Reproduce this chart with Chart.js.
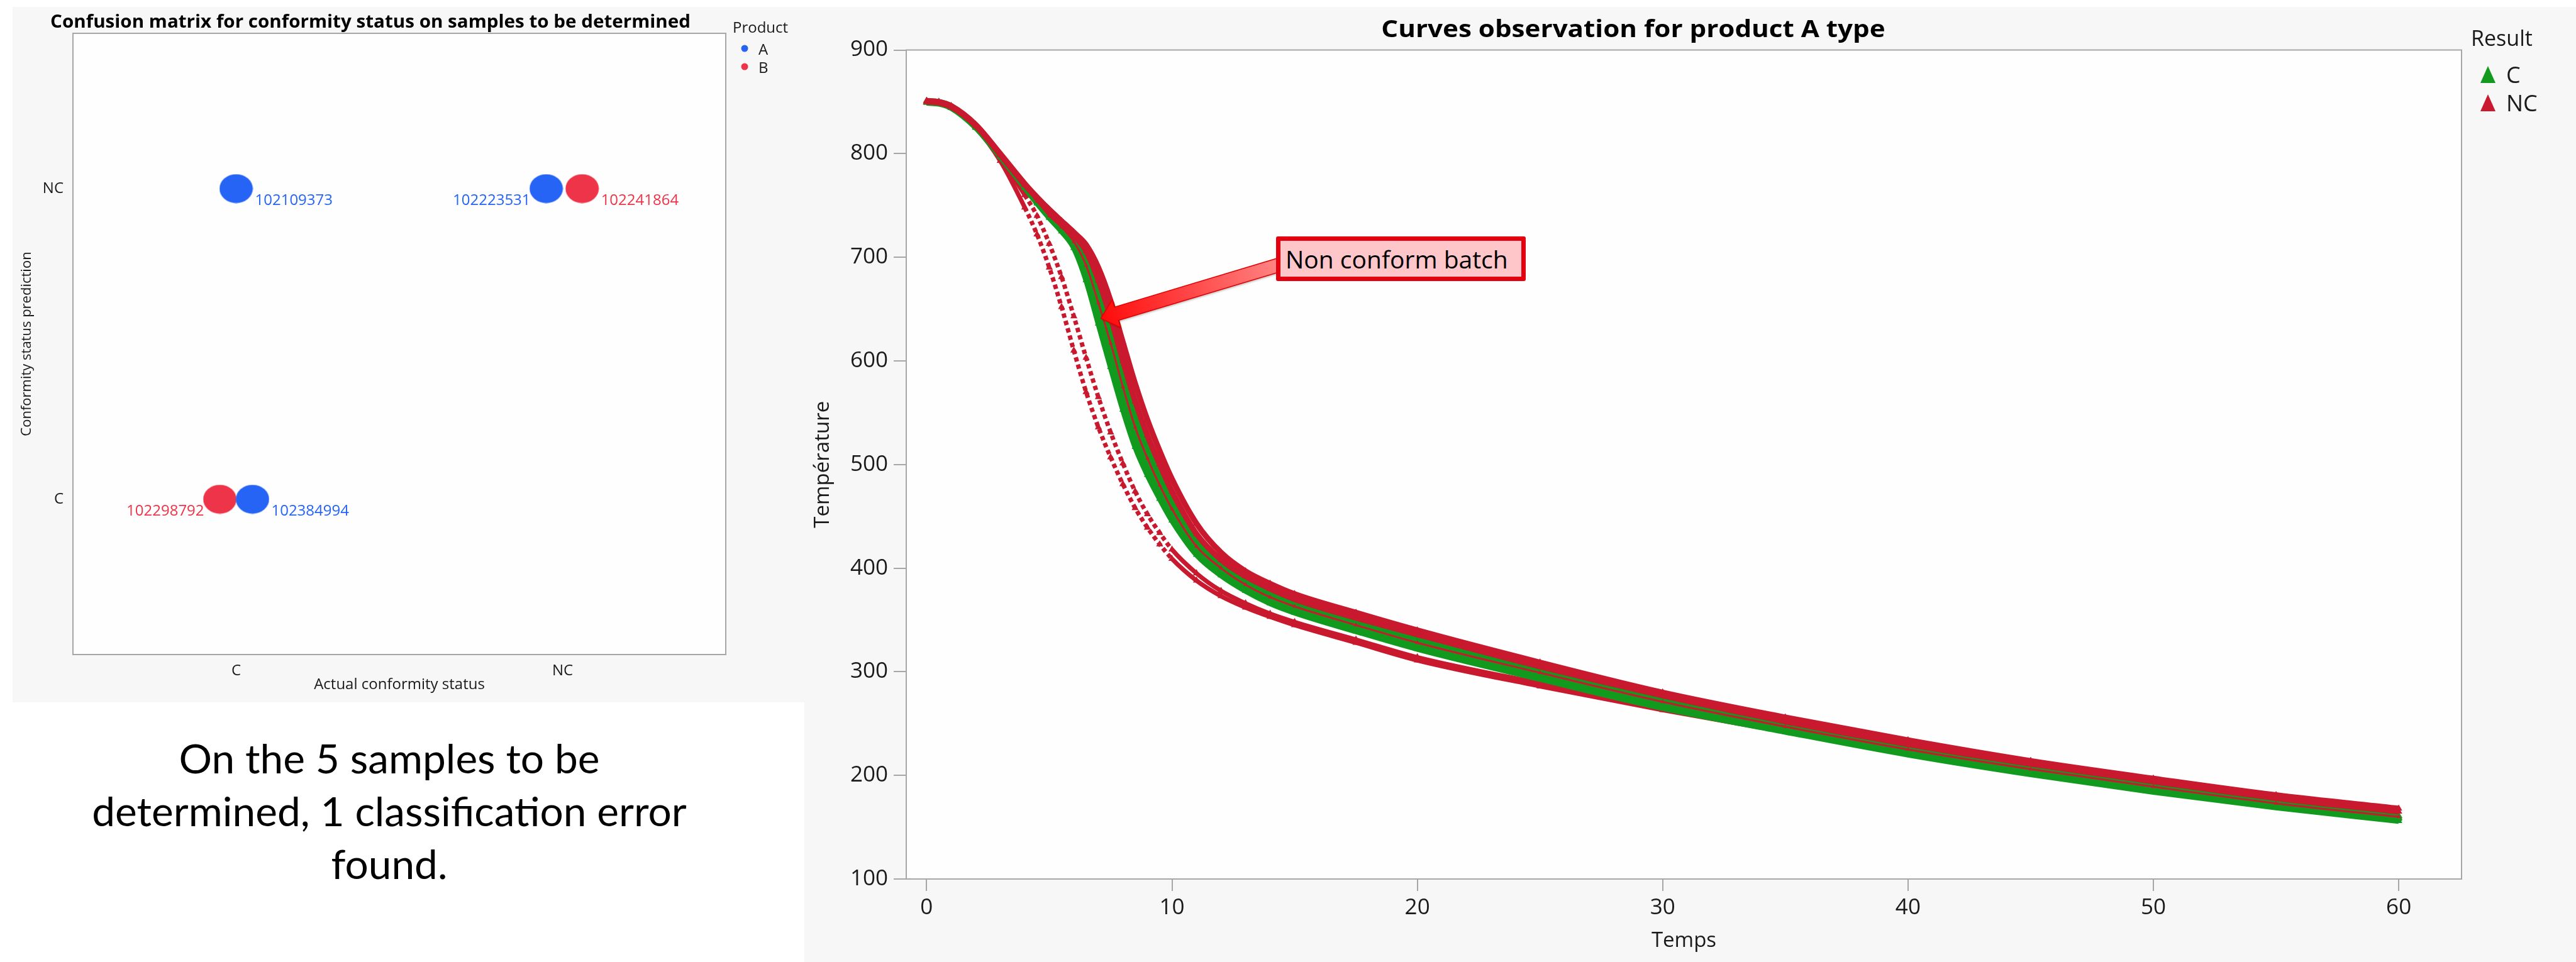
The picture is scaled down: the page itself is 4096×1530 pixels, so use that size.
<!DOCTYPE html>
<html>
<head>
<meta charset="utf-8">
<title>Confusion matrix and cooling curves</title>
<script src="https://cdn.jsdelivr.net/npm/chart.js@4.4.1/dist/chart.umd.min.js"></script>
<style>
  html, body { margin:0; padding:0; width:4096px; height:1530px; background:#ffffff; overflow:hidden; }
  body { position:relative; font-family:'Open Sans','Noto Sans',sans-serif; color:#000; }
  .panel { position:absolute; background:#f7f7f7; }
  .panel canvas { position:absolute; left:0; top:0; }
  .txt { position:absolute; white-space:nowrap; line-height:1; }
  .lg { position:absolute; white-space:nowrap; line-height:1; transform:translateY(-50%); color:#1a1a1a; }
  #note { position:absolute; left:2029px; top:376px; width:397px; height:71px; box-sizing:border-box;
          border:7px solid #e3000f; border-radius:3px; background:#ffc6c9; font-size:39px; line-height:57px;
          padding-left:8px; white-space:nowrap; color:#000; }
</style>
</head>
<body>
<div class="panel" id="leftPanel" style="left:20px;top:11px;width:1259px;height:1106px;">
  <canvas id="cm" width="1259" height="1106"></canvas>
</div>
<div class="panel" id="rightPanel" style="left:1279px;top:11px;width:2817px;height:1519px;">
  <canvas id="curves" width="2817" height="1519"></canvas>
</div>

<div class="txt fit" data-cx="589" data-cy="33" data-w="1018" style="font-weight:700;font-size:28px;">Confusion matrix for conformity status on samples to be determined</div>
<div class="txt fit" data-cx="2597" data-cy="44" data-w="801" style="font-weight:700;font-size:37px;">Curves observation for product A type</div>

<div class="lg" style="left:1165px;top:43px;font-size:24px;">Product</div>
<svg style="position:absolute;left:1176px;top:69px;" width="16" height="46">
  <circle cx="8" cy="8" r="5.5" fill="#2664f5"/>
  <circle cx="8" cy="37" r="5.5" fill="#ee3448"/>
</svg>
<div class="lg" style="left:1206px;top:78px;font-size:24px;">A</div>
<div class="lg" style="left:1206px;top:107px;font-size:24px;">B</div>

<div class="lg" style="left:3929px;top:60px;font-size:34px;">Result</div>
<svg style="position:absolute;left:3943px;top:105px;" width="26" height="74">
  <polygon points="13,0 25,27 1,27" fill="#129a1e"/>
  <polygon points="13,45 25,72 1,72" fill="#c8192e"/>
</svg>
<div class="lg" style="left:3985px;top:119px;font-size:36px;">C</div>
<div class="lg" style="left:3985px;top:164px;font-size:36px;">NC</div>

<div id="note">Non conform batch</div>

<div class="txt fit" data-group="summary" data-cx="619" data-cy="1206" style="font-family:Lato,sans-serif;font-size:64px;">On the 5 samples to be</div>
<div class="txt fit" data-group="summary" data-cx="619" data-cy="1290" data-w="945" style="font-family:Lato,sans-serif;font-size:64px;">determined, 1 classification error</div>
<div class="txt fit" data-group="summary" data-cx="619" data-cy="1374" style="font-family:Lato,sans-serif;font-size:64px;">found.</div>

<script>
// ---------------- DATA : confusion matrix ----------------
const statusCategories = ['C', 'NC'];
const productCategories = ['A', 'B'];
const sampleIds       = ['102109373', '102223531', '102241864', '102298792', '102384994'];
const sampleProduct   = ['A', 'A', 'B', 'B', 'A'];
const sampleActual    = ['C', 'NC', 'NC', 'C', 'C'];
const samplePredicted = ['NC', 'NC', 'NC', 'C', 'C'];
const sampleJitter    = [0.00, -0.05, 0.06, -0.05, 0.05];

// ---------------- DATA : cooling curves (Temps / Température) ----------------
const timeS = [0, 0.5, 1, 2, 3, 4, 4.5, 5, 5.5, 6, 6.5, 7, 7.5, 8, 8.5, 9, 9.5, 10, 11, 12, 13, 14, 15, 17.5, 20, 25, 30, 35, 40, 45, 50, 55, 60];
const resultCategories = ['C', 'NC'];
// conform batches (C)
const curveC1 = [849,848,844,825,797,767,752,738,725,709,678,636,594,553,517,490,467,446,413,393,378,366,357,339,322,293,265,242,220,201,184,169,156];
const curveC2 = [850,849,845,826,798,768,753,739,727,712,684,645,604,563,525,496,472,451,417,396,381,369,360,342,325,296,268,244,222,203,186,171,158];
const curveC3 = [850,849,845,826,798,769,754,740,728,714,689,652,612,570,532,502,477,454,419,398,383,371,362,344,327,298,270,246,224,205,188,172,159];
const curveC4 = [851,850,846,827,799,770,755,741,729,716,694,660,621,579,540,509,483,459,423,401,385,373,364,346,329,300,272,248,226,207,190,174,160];
const curveC5 = [850,849,845,826,799,770,756,742,731,719,699,668,631,590,550,517,490,465,427,404,388,376,366,348,331,302,273,249,227,208,191,175,161];
// non conform batches (NC)
const curveNC1 = [850,849,845,825,793,748,722,690,652,610,570,536,507,481,458,439,423,409,388,373,362,353,345,328,311,286,263,242,221,203,187,172,159];
const curveNC2 = [850,849,845,826,796,760,740,713,681,643,603,565,531,501,474,452,434,418,395,378,366,356,348,331,314,289,266,244,223,205,189,174,161];
const curveNC3 = [851,850,846,828,800,771,758,746,735,724,712,690,658,618,578,543,513,486,443,415,397,385,375,357,340,309,280,256,234,214,197,181,168];
const curveNC4 = [850,849,845,826,798,769,754,740,729,715,692,656,617,575,536,506,480,457,421,400,384,372,363,345,328,299,271,247,225,206,189,173,160];
const curveNC5 = [850,849,845,827,799,770,757,744,733,721,706,678,642,600,561,528,500,474,433,408,392,380,370,352,336,305,277,252,230,211,194,178,165];
const tempTicks = [100, 200, 300, 400, 500, 600, 700, 800, 900];
const timeTicks = [0, 10, 20, 30, 40, 50, 60];
const noteTarget = { t: 7.1, T: 641 };   // point of the curve marked "Non conform batch"

// ---------------- styles ----------------
const productColors = { A: '#2664f5', B: '#ee3448' };
const resultColors = { C: '#129a1e', NC: '#c8192e' };
const FRAME = '#a6a6a6';
Chart.defaults.font.family = "'Open Sans','Noto Sans',sans-serif";
Chart.defaults.color = '#1a1a1a';
Chart.defaults.animation = false;

const plotFrame = {
  id: 'plotFrame',
  beforeDraw(chart) {
    const { ctx, chartArea: a } = chart;
    ctx.save(); ctx.fillStyle = '#fefefe';
    ctx.fillRect(a.left, a.top, a.right - a.left, a.bottom - a.top); ctx.restore();
  },
  afterDraw(chart) {
    const { ctx, chartArea: a } = chart;
    ctx.save(); ctx.strokeStyle = FRAME; ctx.lineWidth = 2;
    ctx.strokeRect(a.left, a.top, a.right - a.left, a.bottom - a.top); ctx.restore();
  }
};

// ---------------- left chart: confusion matrix ----------------
function ellipseStyle(color) {
  const c = document.createElement('canvas');
  c.width = 54; c.height = 47;
  const g = c.getContext('2d');
  g.fillStyle = color; g.beginPath(); g.ellipse(27, 23.5, 26.5, 23, 0, 0, Math.PI * 2); g.fill();
  return c;
}
const cmDatasets = productCategories.map(p => ({
  label: p,
  data: sampleIds.map((id, i) => ({
    x: statusCategories.indexOf(sampleActual[i]) + sampleJitter[i],
    y: statusCategories.indexOf(samplePredicted[i]),
    id: id, product: sampleProduct[i]
  })).filter(d => d.product === p),
  pointStyle: ellipseStyle(productColors[p]),
  pointRadius: 25, pointHoverRadius: 25,
  backgroundColor: productColors[p], borderWidth: 0
}));

const idLabels = {
  id: 'idLabels',
  afterDatasetsDraw(chart) {
    const ctx = chart.ctx, pts = [];
    chart.data.datasets.forEach((ds, di) => {
      chart.getDatasetMeta(di).data.forEach((el, i) => pts.push({ x: el.x, y: el.y, raw: ds.data[i], color: ds.backgroundColor }));
    });
    ctx.save(); ctx.font = "24px 'Open Sans'"; ctx.textBaseline = 'middle';
    pts.forEach(p => {
      const partner = pts.find(q => q !== p && q.raw.y === p.raw.y && Math.round(q.raw.x) === Math.round(p.raw.x));
      const leftSide = partner && partner.x > p.x;
      ctx.fillStyle = p.color;
      ctx.textAlign = leftSide ? 'right' : 'left';
      ctx.fillText(p.raw.id, leftSide ? p.x - 25 : p.x + 30, p.y + 19);
    });
    ctx.restore();
  }
};

new Chart(document.getElementById('cm'), {
  type: 'scatter',
  data: { datasets: cmDatasets },
  options: {
    responsive: false, animation: false, events: [],
    layout: { padding: { top: 42, right: 125, bottom: 0, left: 0 } },
    plugins: { legend: { display: false }, tooltip: { enabled: false } },
    scales: {
      x: {
        type: 'linear', min: -0.5, max: 1.5,
        afterBuildTicks: s => { s.ticks = statusCategories.map((c, i) => ({ value: i })); },
        afterFit: s => { s.height = 76; },
        grid: { display: false }, border: { display: false },
        ticks: { callback: v => statusCategories[v], font: { size: 24 }, color: '#1a1a1a', padding: 4, maxRotation: 0 },
        title: { display: true, text: 'Actual conformity status', font: { size: 24 }, color: '#1a1a1a', padding: { top: 0, bottom: 13 } }
      },
      y: {
        type: 'linear', min: -0.5, max: 1.5,
        afterBuildTicks: s => { s.ticks = statusCategories.map((c, i) => ({ value: i })); },
        afterFit: s => { s.width = 96; },
        grid: { display: false }, border: { display: false },
        ticks: { callback: v => statusCategories[v], font: { size: 24 }, color: '#1a1a1a', padding: 7 },
        title: { display: true, text: 'Conformity status prediction', font: { size: 22 }, color: '#1a1a1a', padding: { top: 10, bottom: 0 } }
      }
    }
  },
  plugins: [plotFrame, idLabels]
});

// ---------------- right chart: curves ----------------
const curveSeries = [
  { values: curveNC1, result: 'NC', order: 12, fast: true },
  { values: curveNC2, result: 'NC', order: 11, fast: true },
  { values: curveC1, result: 'C', order: 10 },
  { values: curveC2, result: 'C', order: 9 },
  { values: curveC3, result: 'C', order: 8 },
  { values: curveC4, result: 'C', order: 7 },
  { values: curveC5, result: 'C', order: 6 },
  { values: curveNC4, result: 'NC', order: 3, thin: true },
  { values: curveNC5, result: 'NC', order: 2 },
  { values: curveNC3, result: 'NC', order: 1 }
];
const curveDatasets = curveSeries.map(s => {
  const col = resultColors[s.result];
  return {
    label: s.result,
    data: timeS.map((t, i) => ({ x: t, y: s.values[i] })),
    borderColor: col, backgroundColor: col, pointBackgroundColor: col,
    borderWidth: s.thin ? 3 : (s.fast ? 7 : 9),
    pointStyle: 'triangle', pointRadius: s.thin ? 4 : 6.5, pointBorderWidth: 0,
    cubicInterpolationMode: 'monotone', fill: false, order: s.order,
    segment: s.fast ? { borderDash: c => (c.p0.parsed.x >= 3.5 && c.p1.parsed.x <= 10) ? [7, 5] : undefined } : undefined
  };
});

const noteArrow = {
  id: 'noteArrow',
  afterDraw(chart) {
    const { ctx, scales: { x, y } } = chart;
    const box = document.getElementById('note');
    const panel = document.getElementById('rightPanel');
    const tip = { x: x.getPixelForValue(noteTarget.t), y: y.getPixelForValue(noteTarget.T) };
    const tail = { x: box.offsetLeft - panel.offsetLeft + 6, y: box.offsetTop - panel.offsetTop + 45 };
    const dx = tail.x - tip.x, dy = tail.y - tip.y, len = Math.hypot(dx, dy);
    const u = { x: dx / len, y: dy / len }, n = { x: -u.y, y: u.x };
    const headL = 26, headW = 23, shaftW = 11;
    const b = { x: tip.x + u.x * headL, y: tip.y + u.y * headL };
    const P = (p, k) => [p.x + n.x * k, p.y + n.y * k];
    const poly = [[tip.x, tip.y], P(b, headW), P(b, shaftW), P(tail, shaftW), P(tail, -shaftW), P(b, -shaftW), P(b, -headW)];
    ctx.save();
    const g = ctx.createLinearGradient(tip.x, tip.y, tail.x, tail.y);
    g.addColorStop(0, '#ff0a0a'); g.addColorStop(1, '#ff8585');
    ctx.beginPath(); poly.forEach((p, i) => i ? ctx.lineTo(p[0], p[1]) : ctx.moveTo(p[0], p[1])); ctx.closePath();
    ctx.shadowColor = 'rgba(0,0,0,0.25)'; ctx.shadowOffsetX = 2; ctx.shadowOffsetY = 2; ctx.shadowBlur = 3;
    ctx.fillStyle = g; ctx.fill();
    ctx.shadowColor = 'transparent';
    ctx.strokeStyle = '#e00000'; ctx.lineWidth = 1.5; ctx.stroke();
    ctx.restore();
  }
};

new Chart(document.getElementById('curves'), {
  type: 'line',
  data: { datasets: curveDatasets },
  options: {
    responsive: false, animation: false, events: [],
    layout: { padding: { top: 68.5, right: 182, bottom: 0, left: 0 } },
    plugins: { legend: { display: false }, tooltip: { enabled: false } },
    scales: {
      x: {
        type: 'linear', min: -0.83, max: 62.56,
        afterBuildTicks: s => { s.ticks = timeTicks.map(v => ({ value: v })); },
        afterFit: s => { s.height = 132; },
        grid: { drawOnChartArea: false, drawTicks: true, tickLength: 19, color: FRAME, lineWidth: 2 },
        border: { display: false },
        ticks: { font: { size: 35 }, color: '#1a1a1a', padding: 6, maxRotation: 0 },
        title: { display: true, text: 'Temps', font: { size: 33 }, color: '#1a1a1a', padding: { top: 0, bottom: 14 } }
      },
      y: {
        type: 'linear', min: 100, max: 900,
        afterBuildTicks: s => { s.ticks = tempTicks.map(v => ({ value: v })); },
        afterFit: s => { s.width = 162; },
        grid: { drawOnChartArea: false, drawTicks: true, tickLength: 20, color: FRAME, lineWidth: 2 },
        border: { display: false },
        ticks: { font: { size: 35 }, color: '#1a1a1a', padding: 9 },
        title: { display: true, text: 'Température', font: { size: 33 }, color: '#1a1a1a', padding: { top: 10, bottom: 0 } }
      }
    }
  },
  plugins: [plotFrame, noteArrow]
});

// ---------------- place text blocks ----------------
function placeTexts() {
  const els = Array.from(document.querySelectorAll('.fit'));
  const groupScale = {};
  els.forEach(el => { if (el.dataset.w && el.dataset.group) groupScale[el.dataset.group] = +el.dataset.w / el.offsetWidth; });
  els.forEach(el => {
    el.style.left = el.dataset.cx + 'px'; el.style.top = el.dataset.cy + 'px';
    let k = 1;
    if (el.dataset.group) k = groupScale[el.dataset.group] || 1;
    else if (el.dataset.w) k = +el.dataset.w / el.offsetWidth;
    el.style.transform = 'translate(-50%,-50%) scaleX(' + k.toFixed(4) + ')';
  });
}
placeTexts();
if (document.fonts && document.fonts.ready) document.fonts.ready.then(placeTexts);
</script>
</body>
</html>
